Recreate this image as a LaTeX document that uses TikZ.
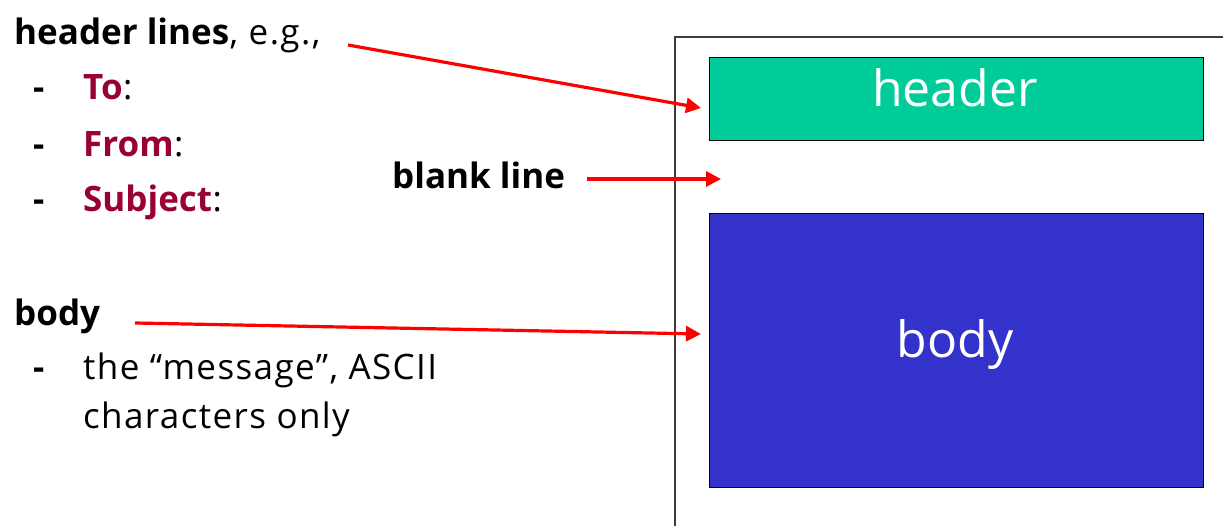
\documentclass[tikz,border=0pt]{standalone}
\usepackage{fontspec}
\setmainfont{Open Sans}
\newfontfamily\widefont[LetterSpace=4]{Open Sans}
\usetikzlibrary{arrows.meta}
\definecolor{hdrgreen}{RGB}{0,204,153}
\definecolor{bodyblue}{RGB}{51,51,204}
\definecolor{fieldred}{RGB}{153,0,51}
\definecolor{framegray}{RGB}{60,60,60}
\begin{document}
\begin{tikzpicture}[x=1pt,y=-1pt,
  txt/.style={anchor=base west, inner sep=0pt, font=\fontsize{35}{40}\selectfont},
  wtxt/.style={anchor=base west, inner sep=0pt, font=\widefont\fontsize{35}{40}\selectfont},
  btxt/.style={anchor=base west, inner sep=0pt, font=\fontsize{35}{40}\selectfont\bfseries},
  fld/.style={btxt, text=fieldred},
  arr/.style={draw=red, line width=3.2pt, -{Triangle[length=15pt,width=15pt]}},
  box/.style={draw=black, line width=1.3pt, anchor=north west, inner sep=0pt},
  boxlabel/.style={anchor=base, inner sep=0pt, text=white, font=\fontsize{50}{60}\selectfont}]
\useasboundingbox (0,0) rectangle (1223,526);
% outer message frame (continues beyond the picture)
\coordinate (fbl) at (675,526);
\coordinate (ftl) at (675,37);
\coordinate (ftr) at (1223,37);
\draw[line width=2pt, draw=framegray] (fbl) -- (ftl) -- (ftr);
% boxes
\node[box, fill=hdrgreen, minimum width=494pt, minimum height=83pt] (hdr) at (709,57) {};
\node[box, fill=bodyblue, minimum width=494pt, minimum height=274pt] (bdy) at (709,213) {};
\node[boxlabel] (hdrlbl) at (955,107) {header};
\node[boxlabel] (bdylbl) at (955,357) {body};
% left texts
\node[btxt] (hl) at (14,45) {header lines};
\node[wtxt] (eg) at (hl.base east) {, e.g.,};
\node[btxt] (d1) at (33,100) {-};
\node[fld] (to) at (83,100) {To};
\node[txt] (toc) at (to.base east) {:};
\node[btxt] (d2) at (33,157) {-};
\node[fld] (from) at (83,157) {From};
\node[txt] (fromc) at (from.base east) {:};
\node[btxt] (d3) at (33,212) {-};
\node[fld] (subj) at (83,212) {Subject};
\node[txt] (subjc) at (subj.base east) {:};
\node[btxt] (blank) at (392,189) {blank line};
\node[btxt] (bodyt) at (14,326) {body};
\node[btxt] (d4) at (33,380) {-};
\node[wtxt] (msg1) at (83,380) {the “message”, ASCII};
\node[wtxt] (msg2) at (83,428) {characters only};
% arrow endpoints
\coordinate (a1s) at (348,45);
\coordinate (a1e) at (701,108);
\coordinate (a2s) at (587,179);
\coordinate (a2e) at (721,179);
\coordinate (a3s) at (135,323);
\coordinate (a3e) at (701,334);
\draw[arr] (a1s) -- (a1e);
\draw[arr] (a2s) -- (a2e);
\draw[arr] (a3s) -- (a3e);
\end{tikzpicture}
\end{document}
